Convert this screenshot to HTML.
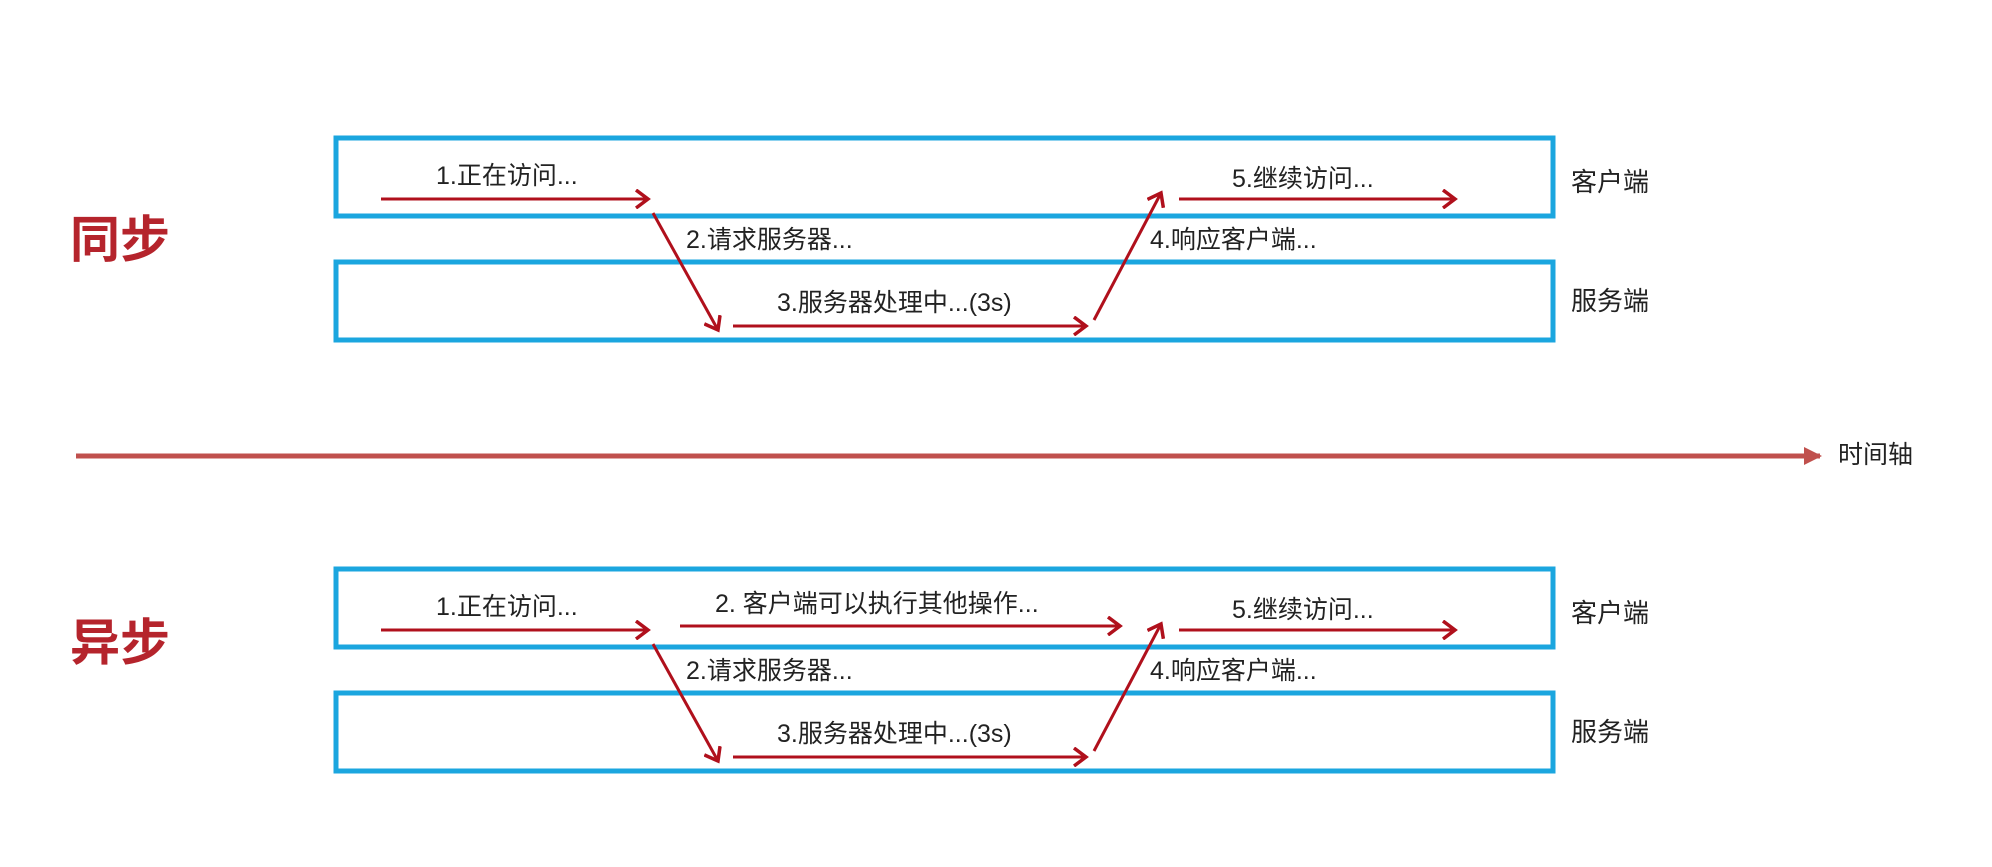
<!DOCTYPE html>
<html><head><meta charset="utf-8"><style>
html,body{margin:0;padding:0;background:#fff;}
svg{display:block;}
text{font-family:"Liberation Sans","Noto Sans CJK SC",sans-serif;fill:#222;}
</style></head><body>
<svg width="1992" height="867" viewBox="0 0 1992 867" xmlns="http://www.w3.org/2000/svg">
<defs>
<marker id="ah" markerWidth="16" markerHeight="20" refX="13" refY="10" orient="auto" markerUnits="userSpaceOnUse">
<path d="M1,1 L13,10 L1,19" fill="none" stroke="#b0101c" stroke-width="3.5"/>
</marker>
<marker id="tl" markerWidth="20" markerHeight="20" refX="16" refY="10" orient="auto" markerUnits="userSpaceOnUse">
<path d="M0,1 L18,10 L0,19 Z" fill="#c0504d"/>
</marker>
</defs>
<g id="top">
<rect x="336" y="138" width="1217" height="78" fill="none" stroke="#1ba6df" stroke-width="5"/>
<rect x="336" y="262" width="1217" height="78" fill="none" stroke="#1ba6df" stroke-width="5"/>
<text x="1571" y="191" font-size="26">客户端</text>
<text x="1571" y="310" font-size="26">服务端</text>
<g stroke="#b0101c" stroke-width="3" fill="none" marker-end="url(#ah)">
<line x1="381" y1="199" x2="648" y2="199"/>
<line x1="653" y1="213" x2="718" y2="330"/>
<line x1="733" y1="326" x2="1086" y2="326"/>
<line x1="1094" y1="320" x2="1161" y2="193"/>
<line x1="1179" y1="199" x2="1455" y2="199"/>
</g>
<text x="436" y="184" font-size="25">1.正在访问...</text>
<text x="686" y="248" font-size="25">2.请求服务器...</text>
<text x="777" y="311" font-size="25">3.服务器处理中...(3s)</text>
<text x="1150" y="248" font-size="25">4.响应客户端...</text>
<text x="1232" y="187" font-size="25">5.继续访问...</text>
</g>
<text x="70" y="257" font-size="50" font-weight="bold" style="fill:#b5242c">同步</text>
<line x1="76" y1="456" x2="1820" y2="456" stroke="#c0504d" stroke-width="5" marker-end="url(#tl)"/>
<text x="1838" y="463" font-size="25">时间轴</text>
<g transform="translate(0,431)">
<rect x="336" y="138" width="1217" height="78" fill="none" stroke="#1ba6df" stroke-width="5"/>
<rect x="336" y="262" width="1217" height="78" fill="none" stroke="#1ba6df" stroke-width="5"/>
<text x="1571" y="191" font-size="26">客户端</text>
<text x="1571" y="310" font-size="26">服务端</text>
<g stroke="#b0101c" stroke-width="3" fill="none" marker-end="url(#ah)">
<line x1="381" y1="199" x2="648" y2="199"/>
<line x1="680" y1="195" x2="1120" y2="195"/>
<line x1="653" y1="213" x2="718" y2="330"/>
<line x1="733" y1="326" x2="1086" y2="326"/>
<line x1="1094" y1="320" x2="1161" y2="193"/>
<line x1="1179" y1="199" x2="1455" y2="199"/>
</g>
<text x="436" y="184" font-size="25">1.正在访问...</text>
<text x="715" y="181" font-size="25">2. 客户端可以执行其他操作...</text>
<text x="686" y="248" font-size="25">2.请求服务器...</text>
<text x="777" y="311" font-size="25">3.服务器处理中...(3s)</text>
<text x="1150" y="248" font-size="25">4.响应客户端...</text>
<text x="1232" y="187" font-size="25">5.继续访问...</text>
</g>
<text x="70" y="660" font-size="50" font-weight="bold" style="fill:#b5242c">异步</text>
</svg>
</body></html>
